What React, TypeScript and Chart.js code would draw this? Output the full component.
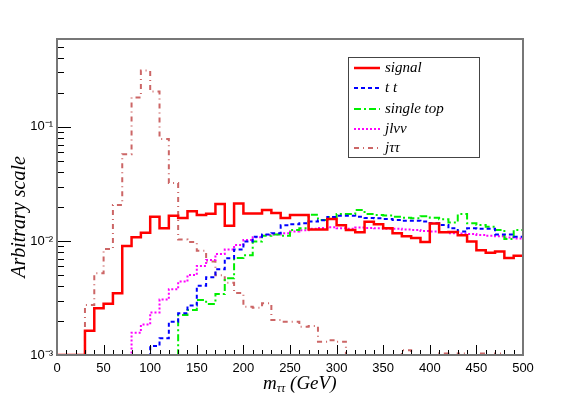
import React, { useEffect, useRef } from "react";
import { Chart, registerables } from "chart.js";

Chart.register(...registerables);

// ---- data ----
const BIN_EDGES = [
  0, 10, 20, 30, 40, 50, 60, 70, 80, 90,
  100, 110, 120, 130, 140, 150, 160, 170, 180, 190,
  200, 210, 220, 230, 240, 250, 260, 270, 280, 290,
  300, 310, 320, 330, 340, 350, 360, 370, 380, 390,
  400, 410, 420, 430, 440, 450, 460, 470, 480, 490,
];
const X_MAX = 500;

const SIGNAL = [
  0, 0, 0, 0.00163, 0.00257, 0.00282, 0.00348, 0.00904, 0.0108, 0.0118,
  0.0163, 0.0129, 0.0166, 0.0159, 0.0182, 0.0169, 0.0173, 0.0211, 0.0136, 0.0213,
  0.0174, 0.0174, 0.0187, 0.0176, 0.0159, 0.0169, 0.0169, 0.0126, 0.0126, 0.0156,
  0.0137, 0.0125, 0.0119, 0.0147, 0.014, 0.0129, 0.0117, 0.011, 0.0106, 0.0098,
  0.0142, 0.0119, 0.012, 0.0112, 0.0099, 0.0083, 0.0079, 0.0081, 0.0071, 0.0074,
];
const TTBAR = [
  0, 0, 0, 0, 0, 0, 0, 0, 0, 0,
  0.0012, 0.0014, 0.00196, 0.00232, 0.00271, 0.00405, 0.0048, 0.00565, 0.00705, 0.0084,
  0.0099, 0.0109, 0.0114, 0.0117, 0.0137, 0.014, 0.0143, 0.0148, 0.0152, 0.0162,
  0.0166, 0.0166, 0.0163, 0.0159, 0.0158, 0.0156, 0.0153, 0.015, 0.015, 0.0148,
  0.0143, 0.0138, 0.0129, 0.0121, 0.0129, 0.0128, 0.0128, 0.0114, 0.0114, 0.0109,
];
const SINGLE_TOP = [
  0, 0, 0, 0, 0, 0, 0, 0, 0, 0,
  0, 0, 0, 0.00224, 0.00248, 0.00304, 0.0028, 0.00343, 0.00471, 0.0071,
  0.0075, 0.0099, 0.0111, 0.0114, 0.0111, 0.0125, 0.0129, 0.017, 0.0153, 0.0162,
  0.0172, 0.0172, 0.0187, 0.0172, 0.0169, 0.0167, 0.0163, 0.016, 0.0158, 0.0165,
  0.016, 0.0155, 0.0145, 0.0172, 0.0143, 0.0138, 0.0133, 0.0125, 0.0104, 0.0125,
];
const JLNUNU = [
  0, 0, 0, 0, 0, 0, 0, 0, 0.00157, 0.00185,
  0.00236, 0.00306, 0.00377, 0.0044, 0.00503, 0.00604, 0.00681, 0.00769, 0.0084, 0.0092,
  0.0102, 0.0108, 0.0113, 0.0114, 0.0117, 0.0121, 0.0124, 0.0128, 0.013, 0.0132,
  0.0129, 0.0128, 0.0131, 0.013, 0.0129, 0.0128, 0.0128, 0.0126, 0.0125, 0.0122,
  0.0121, 0.012, 0.0117, 0.0116, 0.0115, 0.0113, 0.0111, 0.011, 0.0107, 0.0105,
];
const JTAUTAU = [
  0, 0, 0, 0.00275, 0.0052, 0.0085, 0.0207, 0.0577, 0.181, 0.312,
  0.204, 0.0785, 0.0322, 0.0103, 0.0098, 0.0082, 0.0066, 0.005, 0.0043, 0.0035,
  0.00265, 0.0026, 0.00284, 0.00203, 0.00196, 0.00196, 0.00177, 0.0018, 0.00131, 0.00135,
  0.00131, 0, 0, 0, 0, 0, 0, 0.0011, 0, 0,
  0, 0.00103, 0, 0.00103, 0, 0.00103, 0, 0.00103, 0, 0,
];

const SERIES_LABELS = ["signal", "t t", "single top", "jlνν", "jττ"];
const X_TICKS = [0, 50, 100, 150, 200, 250, 300, 350, 400, 450, 500];
const Y_DECADES = [0.001, 0.01, 0.1];
const Y_TICK_LABELS = ["10⁻³", "10⁻²", "10⁻¹"];
const Y_MIN = 0.001;
const Y_MAX = 0.59;
const X_TITLE_MAIN = "m";
const X_TITLE_SUB = "ττ";
const X_TITLE_UNIT = " (GeV)";
const Y_TITLE = "Arbitrary scale";

// ---- styles ----
const STYLES = [
  { color: "#ff0000", dash: [] as number[], width: 2.5 },
  { color: "#0000ff", dash: [4, 3], width: 2 },
  { color: "#00ee00", dash: [7, 3, 2, 3], width: 2 },
  { color: "#ff00ff", dash: [2, 2], width: 2 },
  { color: "#cc6666", dash: [5, 4, 1, 4], width: 2 },
];

function histPoints(vals: number[]) {
  const pts = BIN_EDGES.map((e, i) => ({ x: e, y: vals[i] > 0 ? vals[i] : Y_MIN }));
  const last = vals[vals.length - 1];
  pts.push({ x: X_MAX, y: last > 0 ? last : Y_MIN });
  return pts;
}

const SERIF = "'Liberation Serif', 'Times New Roman', serif";
const SANS = "'Liberation Sans', Arial, sans-serif";

const decorPlugin = {
  id: "rootDecor",
  afterDraw(chart: any) {
    const { ctx, chartArea: a, scales } = chart;
    const xs = scales.x;
    const ys = scales.y;
    ctx.save();

    // inward ticks
    ctx.strokeStyle = "#000";
    ctx.lineWidth = 1;
    ctx.beginPath();
    for (let v = xs.min; v <= xs.max; v += 10) {
      const px = Math.round(xs.getPixelForValue(v)) + 0.5;
      const len = v % 50 === 0 ? 10 : 5;
      ctx.moveTo(px, a.bottom);
      ctx.lineTo(px, a.bottom - len);
    }
    for (const d of Y_DECADES) {
      for (let k = 1; k <= 9; k++) {
        const v = d * k;
        if (v > ys.max) break;
        const py = Math.round(ys.getPixelForValue(v)) + 0.5;
        const len = k === 1 ? 14 : 7;
        ctx.moveTo(a.left, py);
        ctx.lineTo(a.left + len, py);
      }
    }
    ctx.stroke();

    // frame
    ctx.strokeStyle = "#777";
    ctx.lineWidth = 2;
    ctx.strokeRect(a.left, a.top, a.right - a.left, a.bottom - a.top);

    // x title
    ctx.fillStyle = "#000";
    ctx.textBaseline = "alphabetic";
    ctx.textAlign = "left";
    let tx = 263;
    const ty = 389;
    ctx.font = `italic 19px ${SERIF}`;
    ctx.fillText(X_TITLE_MAIN, tx, ty);
    tx += ctx.measureText(X_TITLE_MAIN).width;
    ctx.font = `italic 12px ${SERIF}`;
    ctx.fillText(X_TITLE_SUB, tx, ty + 3);
    tx += ctx.measureText(X_TITLE_SUB).width;
    ctx.font = `italic 19px ${SERIF}`;
    ctx.fillText(X_TITLE_UNIT, tx, ty);

    // y title
    ctx.save();
    ctx.translate(25, 217);
    ctx.rotate(-Math.PI / 2);
    ctx.textAlign = "center";
    ctx.font = `italic 20px ${SERIF}`;
    ctx.fillText(Y_TITLE, 0, 0);
    ctx.restore();

    // legend
    const bx = 348, by = 57, bw = 131, bh = 100;
    ctx.fillStyle = "#fff";
    ctx.fillRect(bx, by, bw, bh);
    ctx.strokeStyle = "#444";
    ctx.lineWidth = 1;
    ctx.strokeRect(bx + 0.5, by + 0.5, bw, bh);
    const rowY = [68, 88, 109, 129, 148];
    chart.data.datasets.forEach((ds: any, i: number) => {
      const y = rowY[i];
      ctx.beginPath();
      ctx.strokeStyle = ds.borderColor;
      ctx.lineWidth = ds.borderWidth;
      ctx.setLineDash(ds.borderDash || []);
      ctx.moveTo(354, y);
      ctx.lineTo(380, y);
      ctx.stroke();
      ctx.setLineDash([]);
      ctx.fillStyle = "#000";
      ctx.font = `italic 15px ${SERIF}`;
      ctx.textBaseline = "middle";
      ctx.fillText(ds.label, 385, y);
    });
    ctx.restore();
  },
};

export default function App() {
  const ref = useRef<HTMLCanvasElement | null>(null);
  useEffect(() => {
    document.body.style.margin = "0";
    const canvas = ref.current!;
    const datasets = [SIGNAL, TTBAR, SINGLE_TOP, JLNUNU, JTAUTAU].map((vals, i) => ({
      label: SERIES_LABELS[i],
      data: histPoints(vals),
      borderColor: STYLES[i].color,
      backgroundColor: STYLES[i].color,
      borderWidth: STYLES[i].width,
      borderDash: STYLES[i].dash,
      stepped: "before" as const,
      pointRadius: 0,
      fill: false,
      tension: 0,
    }));
    const chart = new Chart(canvas, {
      type: "line",
      data: { datasets },
      options: {
        animation: false,
        responsive: false,
        layout: { padding: { top: 39, right: 58, left: 0, bottom: 0 } },
        plugins: { legend: { display: false }, tooltip: { enabled: false } },
        scales: {
          x: {
            type: "linear",
            min: 0,
            max: X_MAX,
            afterFit: (s: any) => { s.height = 40; },
            afterBuildTicks: (s: any) => { s.ticks = X_TICKS.map((v) => ({ value: v })); },
            grid: { display: false, drawTicks: false },
            border: { display: false },
            ticks: {
              padding: 6,
              color: "#000",
              font: { family: SANS, size: 13 },
              maxRotation: 0,
              autoSkip: false,
            },
          },
          y: {
            type: "logarithmic",
            min: Y_MIN,
            max: Y_MAX,
            afterFit: (s: any) => { s.width = 57; },
            afterBuildTicks: (s: any) => { s.ticks = Y_DECADES.map((v) => ({ value: v })); },
            grid: { display: false, drawTicks: false },
            border: { display: false },
            ticks: {
              padding: 4,
              color: "#000",
              font: { family: SANS, size: 13 },
              autoSkip: false,
              callback: (v: any) => {
                const i = Y_DECADES.findIndex((d) => Math.abs(d - Number(v)) / d < 1e-6);
                return i >= 0 ? Y_TICK_LABELS[i] : "";
              },
            },
          },
        },
      },
      plugins: [decorPlugin],
    });
    return () => chart.destroy();
  }, []);
  return (
    <div style={{ width: 581, height: 395, position: "relative", background: "#fff" }}>
      <canvas ref={ref} width={581} height={395} />
    </div>
  );
}
